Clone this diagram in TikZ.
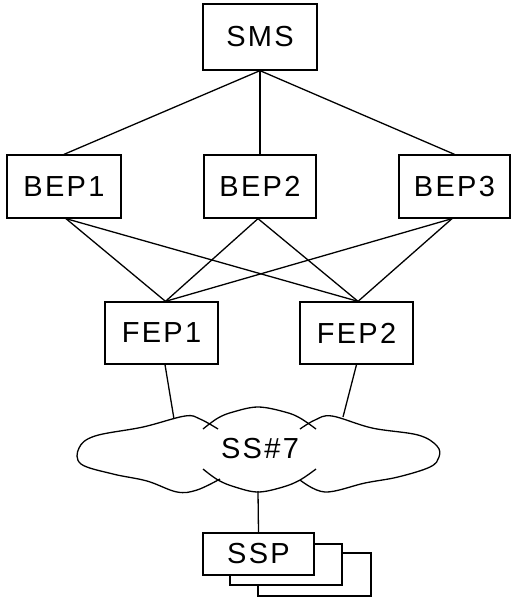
\documentclass[tikz,border=0pt]{standalone}
\usepackage{fontspec}
\setmainfont{Liberation Sans}[LetterSpace=8]
\begin{document}
\begin{tikzpicture}[x=1pt,y=-1pt,line width=1.3pt,
  lbl/.style={font=\fontsize{29}{31}\selectfont, inner sep=0pt},
  box/.style={lbl, draw, fill=white, minimum height=63pt},
  cloudline/.style={line width=1.3pt, line join=round}]
\useasboundingbox (0,0) rectangle (511,598);
% boxes
\node[box, minimum width=114pt, minimum height=66pt] (sms) at (260,37) {SMS};
\node[box, minimum width=114pt] (bep1) at (64,186.5) {BEP1};
\node[box, minimum width=112pt] (bep2) at (260,186.5) {BEP2};
\node[box, minimum width=111pt] (bep3) at (454.5,186.5) {BEP3};
\node[box, minimum width=113pt, minimum height=62pt] (fep1) at (161.5,333) {FEP1};
\node[box, minimum width=113pt, minimum height=62pt] (fep2) at (356.5,333) {FEP2};
% SSP stack
\node[box, minimum width=113pt, minimum height=43pt] (ssp3) at (314.5,574.5) {};
\node[box, minimum width=112pt, minimum height=41pt] (ssp2) at (286,564.5) {};
\node[box, minimum width=111pt, minimum height=42pt] (ssp) at (258.5,554) {SSP};
% cloud
\draw[cloudline] plot[smooth, tension=0.6] coordinates {(218,429) (200,419) (185,416) (143,427) (95,436) (79,448) (81,464) (113,474) (147,481) (177,492) (197,490) (220,479)};
\draw[cloudline] plot[smooth, tension=0.6] coordinates {(203,429) (218,418) (233,412) (258,407) (285,412) (300,418) (316,429)};
\draw[cloudline] plot[smooth, tension=0.6] coordinates {(300,429) (315,420) (332,416) (372,428) (418,435) (437,446) (439,457) (430,467) (398,477) (365,483) (325,492) (300,480)};
\draw[cloudline] plot[smooth, tension=0.6] coordinates {(203,469) (218,480) (235,487) (258,492) (283,487) (300,480) (316,469)};
\node[lbl] (ss7) at (260,449) {SS\#7};
\coordinate (c1) at (174,419);
\coordinate (c2) at (343,417);
\coordinate (c3) at (258,491);
% connectors
\draw (sms.south) -- (bep1.north);
\draw (sms.south) -- (bep2.north);
\draw (sms.south) -- (bep3.north);
\draw ([xshift=2]bep1.south) -- ([xshift=4]fep1.north);
\draw ([xshift=2]bep1.south) -- ([xshift=1.5]fep2.north);
\draw ([xshift=-2]bep2.south) -- ([xshift=4]fep1.north);
\draw ([xshift=-2]bep2.south) -- ([xshift=1.5]fep2.north);
\draw ([xshift=-2.5]bep3.south) -- ([xshift=4]fep1.north);
\draw ([xshift=-2.5]bep3.south) -- ([xshift=1.5]fep2.north);
\draw ([xshift=3.5]fep1.south) -- (c1);
\draw ([xshift=0]fep2.south) -- (c2);
\draw (c3) -- (ssp.north);
\end{tikzpicture}
\end{document}
